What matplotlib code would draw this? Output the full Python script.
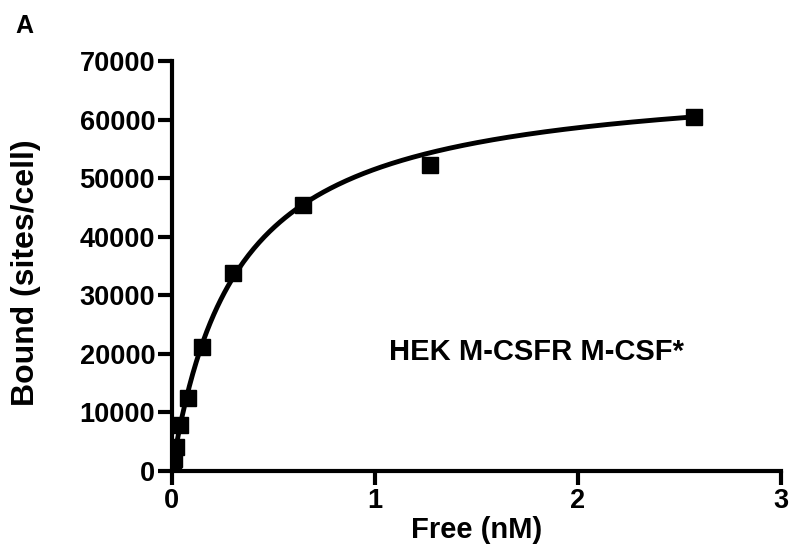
import numpy as np
import matplotlib.pyplot as plt

plt.rcParams['font.family'] = ['Liberation Sans', 'DejaVu Sans']
plt.rcParams['font.weight'] = 'bold'

# Saturation binding data
free_nM = [0.005, 0.01, 0.02, 0.04, 0.08, 0.15, 0.30, 0.645, 1.27, 2.57]
bound_sites = [1000, 2000, 4000, 7900, 12500, 21200, 33900, 45500, 52300, 60500]

# one-site binding fit parameters (estimated)
bmax = 68000
kd = 0.319

x_ticks = [0, 1, 2, 3]
y_ticks = [0, 10000, 20000, 30000, 40000, 50000, 60000, 70000]

fig = plt.figure(figsize=(7.92, 5.52), dpi=100)
ax = fig.add_axes([0.217, 0.147, 0.769, 0.742])

xfit = np.linspace(0, max(free_nM), 300)
ax.plot(xfit, bmax * xfit / (kd + xfit), color='black', linewidth=3.5, zorder=2)
ax.plot(free_nM, bound_sites, 's', color='black', markersize=11, zorder=3)

ax.set_xlim(0, 3)
ax.set_ylim(0, 70000)
ax.set_xticks(x_ticks)
ax.set_yticks(y_ticks)
ax.set_xticklabels([str(t) for t in x_ticks])
ax.set_yticklabels([str(t) for t in y_ticks])

for s in ['top', 'right']:
    ax.spines[s].set_visible(False)
for s in ['left', 'bottom']:
    ax.spines[s].set_linewidth(3)
ax.tick_params(width=3, length=10, labelsize=19.5, pad=2)
for lab in ax.get_xticklabels() + ax.get_yticklabels():
    lab.set_fontweight('bold')

ax.set_xlabel('Free (nM)', fontsize=21, fontweight='bold', labelpad=2)
ax.set_ylabel('Bound (sites/cell)', fontsize=23, fontweight='bold')
ax.yaxis.set_label_coords(-0.215, 0.485)

ax.text(1.07, 20300, 'HEK M-CSFR M-CSF*', fontsize=21, fontweight='bold',
        ha='left', va='center')
fig.text(0.019, 0.94, 'A', fontsize=18, fontweight='bold')

fig.savefig('out.png', dpi=100)
